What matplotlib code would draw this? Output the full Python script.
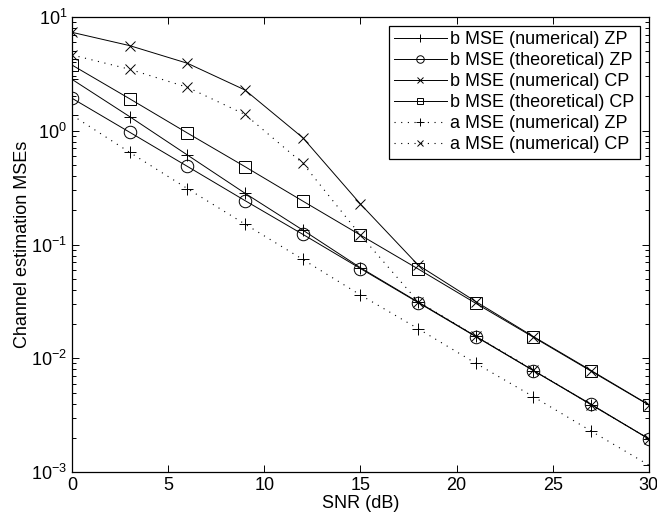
import matplotlib
matplotlib.use('Agg')
import matplotlib.pyplot as plt
from matplotlib.ticker import LogLocator, NullFormatter

plt.rcParams['font.family'] = ['Liberation Sans', 'DejaVu Sans']
plt.rcParams['mathtext.default'] = 'regular'

snr = [0, 3, 6, 9, 12, 15, 18, 21, 24, 27, 30]

b_num_zp = [2.83, 1.33, 0.612, 0.282, 0.134, 0.0625, 0.0312, 0.0156, 0.0078, 0.0039, 0.00196]
b_theo_zp = [1.93, 0.97, 0.486, 0.243, 0.123, 0.0615, 0.0309, 0.0155, 0.00778, 0.00394, 0.00195]
b_num_cp = [7.33, 5.6, 3.92, 2.28, 0.869, 0.227, 0.066, 0.0315, 0.0155, 0.0078, 0.0039]
b_theo_cp = [3.78, 1.91, 0.955, 0.483, 0.241, 0.121, 0.061, 0.0304, 0.0153, 0.0077, 0.00388]
a_num_zp = [1.37, 0.646, 0.31, 0.151, 0.074, 0.036, 0.0182, 0.00903, 0.00459, 0.00229, 0.00115]
a_num_cp = [4.64, 3.47, 2.41, 1.39, 0.518, 0.121, 0.0315, 0.0157, 0.0079, 0.0039, 0.00196]

labels = ['b MSE (numerical) ZP', 'b MSE (theoretical) ZP', 'b MSE (numerical) CP',
          'b MSE (theoretical) CP', 'a MSE (numerical) ZP', 'a MSE (numerical) CP']

fig = plt.figure(figsize=(6.57, 5.21), dpi=100)
ax = fig.add_axes([0.1096, 0.094, 0.878, 0.8734])

solid = dict(color='black', lw=0.7, mfc='none', mew=0.7)
dotted = dict(color='black', lw=0.8, ls=(0, (1, 5)), mfc='none', mew=0.7)

ax.plot(snr, b_num_zp, marker='+', ms=9, label=labels[0], **solid)
ax.plot(snr, b_theo_zp, marker='o', ms=9, label=labels[1], **solid)
ax.plot(snr, b_num_cp, marker='x', ms=7, label=labels[2], **solid)
ax.plot(snr, b_theo_cp, marker='s', ms=8, label=labels[3], **solid)
ax.plot(snr, a_num_zp, marker='+', ms=9, label=labels[4], **dotted)
ax.plot(snr, a_num_cp, marker='x', ms=7, label=labels[5], **dotted)

ax.set_yscale('log')
ax.set_xlim(0, 30)
ax.set_ylim(1e-3, 1e1)
ax.set_xticks([0, 5, 10, 15, 20, 25, 30])
ax.yaxis.set_minor_locator(LogLocator(base=10, subs=range(2, 10)))
ax.yaxis.set_minor_formatter(NullFormatter())
ax.tick_params(which='both', direction='in', top=True, right=True, labelsize=13, width=0.7)
ax.tick_params(which='major', length=5)
ax.tick_params(which='minor', length=3)
for s in ax.spines.values():
    s.set_linewidth(0.9)

ax.set_xlabel('SNR (dB)', fontsize=13, labelpad=1)
ax.set_ylabel('Channel estimation MSEs', fontsize=13, labelpad=0)

leg = ax.legend(loc='upper right', fontsize=13, frameon=True, fancybox=False,
                edgecolor='black', framealpha=1, handlelength=2.9, handletextpad=0.2,
                labelspacing=0.22, borderpad=0.3, borderaxespad=0.5, markerscale=0.6)
leg.get_frame().set_linewidth(0.9)

fig.savefig('out.png', dpi=100)
